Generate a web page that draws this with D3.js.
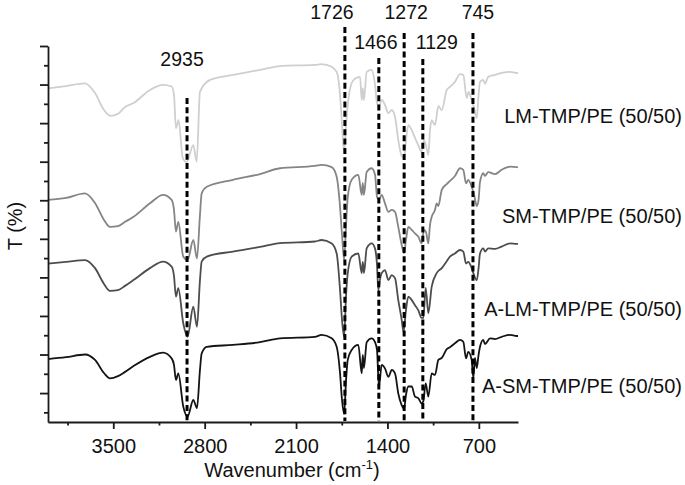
<!DOCTYPE html>
<html><head><meta charset="utf-8">
<script src="https://cdn.jsdelivr.net/npm/d3@7"></script>
<style>body{margin:0;background:#fff}svg{display:block}</style>
</head><body>
<svg id="c" width="685" height="485"></svg>
<script>
// ---------------- data ----------------
const seriesNames = ["LM-TMP/PE (50/50)", "SM-TMP/PE (50/50)", "A-LM-TMP/PE (50/50)", "A-SM-TMP/PE (50/50)"];

const lmTmpPe = [[4000,79.0],[3862,79.6],[3717,80.3],[3640,77.8],[3571,73.4],[3525,71.9],[3464,72.4],[3410,74.2],[3345,75.2],[3219,78.6],[3119,79.9],[3053,79.5],[3035,77.3],[3020,68.7],[3000,70.8],[2968,61.0],[2938,59.9],[2887,64.3],[2861,60.0],[2836,78.1],[2759,81.2],[2583,82.5],[2376,83.8],[2223,84.8],[1955,85.1],[1904,85.3],[1827,84.6],[1789,83.3],[1763,77.3],[1748,69.5],[1732,62.3],[1717,69.5],[1700,76.0],[1674,80.4],[1649,81.5],[1610,82.0],[1597,76.0],[1589,79.1],[1580,76.0],[1559,83.3],[1521,83.8],[1495,79.9],[1480,75.2],[1465,74.4],[1442,76.0],[1419,74.7],[1393,72.6],[1367,73.4],[1342,71.6],[1317,65.6],[1291,61.5],[1273,61.0],[1258,65.6],[1240,69.5],[1214,68.2],[1189,66.2],[1164,64.3],[1138,62.5],[1120,65.6],[1105,64.3],[1087,61.7],[1074,68.2],[1061,70.8],[1036,69.5],[1010,74.4],[984,73.4],[946,78.6],[921,79.4],[883,80.7],[844,82.7],[819,82.5],[793,76.5],[779,78.1],[755,76.0],[736,73.9],[716,71.3],[702,77.3],[691,80.7],[666,81.2],[653,80.2],[628,82.0],[576,82.5],[525,83.0],[461,83.3],[410,83.0],[400,83.0]];

const smTmpPe = [[4000,50.1],[3862,50.6],[3717,51.8],[3640,49.3],[3571,44.9],[3525,43.1],[3464,43.3],[3410,44.4],[3345,45.7],[3219,49.2],[3119,51.4],[3053,50.1],[3035,47.5],[3020,41.9],[3002,44.4],[2964,35.4],[2931,34.5],[2887,39.7],[2859,34.9],[2836,46.2],[2823,51.8],[2784,53.5],[2583,55.3],[2376,56.8],[2223,58.3],[1955,58.9],[1904,59.2],[1827,58.6],[1789,56.1],[1763,48.3],[1748,41.0],[1732,34.5],[1717,43.6],[1704,50.8],[1674,55.3],[1623,56.6],[1597,51.4],[1589,54.5],[1580,51.4],[1559,57.3],[1521,58.3],[1495,56.6],[1480,50.9],[1465,50.1],[1444,51.4],[1419,49.2],[1393,47.0],[1367,47.5],[1342,47.0],[1317,43.1],[1291,38.4],[1273,36.3],[1258,39.7],[1240,43.1],[1214,42.3],[1189,41.4],[1164,40.6],[1138,38.8],[1120,42.3],[1105,41.8],[1087,38.8],[1074,43.6],[1061,45.7],[1036,47.5],[1023,49.2],[1010,48.5],[984,52.7],[946,54.2],[921,55.0],[883,56.3],[844,58.3],[819,57.9],[798,54.4],[781,55.3],[755,53.5],[736,51.4],[716,48.5],[702,50.1],[691,54.7],[666,57.0],[653,56.3],[628,57.3],[576,56.8],[525,57.9],[461,58.7],[410,58.6],[400,58.5]];

const aLmTmpPe = [[4000,33.6],[3862,34.0],[3717,34.5],[3640,32.4],[3571,28.3],[3525,26.5],[3464,26.7],[3410,27.8],[3345,29.3],[3219,32.4],[3119,34.1],[3053,32.8],[3035,30.4],[3020,25.0],[3002,27.2],[2964,18.1],[2931,14.6],[2887,22.4],[2859,17.2],[2836,29.3],[2823,34.1],[2784,35.4],[2583,36.7],[2376,37.9],[2223,38.9],[1955,39.3],[1904,39.7],[1827,38.8],[1789,36.2],[1763,26.7],[1748,19.0],[1732,14.6],[1717,25.4],[1704,31.1],[1674,35.4],[1623,36.2],[1597,31.1],[1589,34.0],[1580,31.1],[1559,37.5],[1521,38.8],[1495,37.5],[1480,33.2],[1470,26.7],[1458,29.3],[1444,31.1],[1419,31.9],[1393,29.3],[1367,30.6],[1342,29.8],[1317,24.1],[1291,19.0],[1277,15.9],[1258,21.5],[1240,25.0],[1214,24.1],[1189,22.8],[1164,21.5],[1138,19.5],[1125,19.5],[1107,27.3],[1087,20.7],[1061,27.6],[1023,31.1],[984,32.4],[946,34.2],[921,35.4],[883,36.2],[844,37.1],[819,36.7],[798,33.6],[781,34.0],[755,32.4],[742,31.1],[716,29.3],[702,32.4],[691,36.2],[666,37.5],[653,36.7],[628,37.5],[576,37.4],[525,38.0],[461,38.8],[410,38.7],[400,38.7]];

const aSmTmpPe = [[4000,8.8],[3862,9.3],[3717,10.0],[3640,8.6],[3571,5.2],[3525,3.8],[3464,4.4],[3410,5.5],[3345,7.0],[3219,9.4],[3119,10.5],[3053,9.0],[3035,7.3],[3020,3.4],[3002,5.1],[2964,-3.5],[2931,-6.1],[2887,-1.8],[2859,-3.9],[2836,6.0],[2823,10.3],[2784,12.0],[2583,12.5],[2376,13.2],[2223,14.2],[1955,14.6],[1904,15.1],[1827,14.2],[1789,12.0],[1763,5.1],[1748,-1.8],[1732,-5.4],[1717,3.4],[1704,8.6],[1674,11.2],[1623,12.5],[1597,5.1],[1589,9.9],[1580,6.5],[1559,13.2],[1521,14.2],[1495,13.2],[1480,11.2],[1465,1.6],[1444,7.3],[1419,6.4],[1393,4.2],[1367,6.0],[1342,5.1],[1317,-0.1],[1291,-3.1],[1273,-4.1],[1258,-0.5],[1240,1.7],[1214,1.7],[1189,-0.9],[1164,-1.3],[1138,-2.7],[1125,-2.1],[1107,2.5],[1087,-0.9],[1061,5.1],[1036,4.7],[1010,8.6],[984,9.1],[946,11.4],[921,11.9],[883,12.9],[844,13.8],[819,13.3],[798,9.0],[781,10.7],[755,8.6],[742,3.9],[730,9.1],[716,6.5],[702,9.9],[691,12.0],[666,13.8],[653,12.7],[614,14.2],[576,14.0],[525,14.6],[461,15.1],[410,14.8],[400,14.8]];

const peakWavenumbers = [2935, 1726, 1466, 1272, 1129, 745];
const peakLabels = ["2935", "1726", "1466", "1272", "1129", "745"];
const xTickValues = [3500, 2800, 2100, 1400, 700];
const xMinorTickValues = [3850, 3150, 2450, 1750, 1050];
const yMajorTickValues = [0, 10, 20, 30, 40, 50, 60, 70, 80, 90];
const yMinorTickValues = [-5, 5, 15, 25, 35, 45, 55, 65, 75, 85];

// ---------------- layout / style ----------------
const FONT = "'Liberation Sans', Arial, Helvetica, sans-serif";
const plotLeft = 48, plotRight = 518, plotTop = 46, plotBottom = 422;
const seriesColors = ["#cfcfcf", "#858585", "#4d4d4d", "#141414"];
const seriesLabelBaseline = [123, 223, 316, 393];
const peakLayout = [
  {dx: -5, labelY: 66, lineTop: 98},
  {dx: -13, labelY: 19, lineTop: 27},
  {dx: -3, labelY: 49, lineTop: 58},
  {dx: 2, labelY: 19, lineTop: 33},
  {dx: 14, labelY: 49, lineTop: 59},
  {dx: 5, labelY: 19, lineTop: 33}
];

const svg = d3.select("#c");
const x = d3.scaleLinear().domain([4000, 400]).range([plotLeft, plotRight]);
const y = d3.scaleLinear().domain([-7.5, 90]).range([plotBottom, plotTop]);

const allSeries = [lmTmpPe, smTmpPe, aLmTmpPe, aSmTmpPe];
const line = d3.line().x(d => x(d[0])).y(d => y(d[1])).curve(d3.curveMonotoneX);

allSeries.forEach((s, i) => {
  svg.append("path").datum(s)
    .attr("d", line)
    .attr("fill", "none")
    .attr("stroke", seriesColors[i])
    .attr("stroke-width", 1.8)
    .attr("stroke-linejoin", "round");
});

// axes
const axisColor = "#1a1a1a";
const gx = svg.append("g").attr("transform", `translate(0,${plotBottom})`);
gx.call(d3.axisBottom(x).tickValues(xMinorTickValues).tickSize(3.5).tickFormat(""));
gx.call(g => g.select(".domain").remove());
const gx2 = svg.append("g").attr("transform", `translate(0,${plotBottom})`);
gx2.call(d3.axisBottom(x).tickValues(xTickValues).tickSize(7).tickPadding(10).tickSizeOuter(0).tickFormat(d3.format("d")));

const gy = svg.append("g").attr("transform", `translate(${plotLeft},0)`);
gy.call(d3.axisLeft(y).tickValues(yMinorTickValues).tickSize(4).tickFormat(""));
gy.call(g => g.select(".domain").remove());
const gy2 = svg.append("g").attr("transform", `translate(${plotLeft},0)`);
gy2.call(d3.axisLeft(y).tickValues(yMajorTickValues).tickSize(8).tickSizeOuter(0).tickFormat(""));

svg.selectAll(".domain, .tick line").attr("stroke", axisColor).attr("stroke-width", 1.8);
gx2.selectAll("text").attr("font-family", FONT).attr("font-size", 20).attr("fill", "#111");

// dashed peak lines
peakWavenumbers.forEach((w, i) => {
  const L = peakLayout[i];
  svg.append("line")
    .attr("x1", x(w)).attr("x2", x(w))
    .attr("y1", L.lineTop).attr("y2", plotBottom - 1)
    .attr("stroke", "#000").attr("stroke-width", 3)
    .attr("stroke-dasharray", "6,3.3");
  svg.append("text")
    .attr("x", x(w) + L.dx).attr("y", L.labelY)
    .attr("text-anchor", "middle")
    .attr("font-family", FONT).attr("font-size", 19.5).attr("fill", "#111")
    .text(peakLabels[i]);
});

// series labels
seriesNames.forEach((n, i) => {
  svg.append("text")
    .attr("x", 682).attr("y", seriesLabelBaseline[i])
    .attr("text-anchor", "end")
    .attr("font-family", FONT).attr("font-size", 20).attr("fill", "#111")
    .text(n);
});

// axis titles
const xt = svg.append("text")
  .attr("x", 292).attr("y", 477)
  .attr("text-anchor", "middle")
  .attr("font-family", FONT).attr("font-size", 20).attr("fill", "#111");
xt.append("tspan").text("Wavenumber (cm");
xt.append("tspan").attr("font-size", 13).attr("dy", -8).text("-1");
xt.append("tspan").attr("dy", 8).text(")");

svg.append("text")
  .attr("transform", "translate(22,226) rotate(-90)")
  .attr("text-anchor", "middle")
  .attr("font-family", FONT).attr("font-size", 20).attr("fill", "#111")
  .text("T (%)");
</script>
</body></html>
